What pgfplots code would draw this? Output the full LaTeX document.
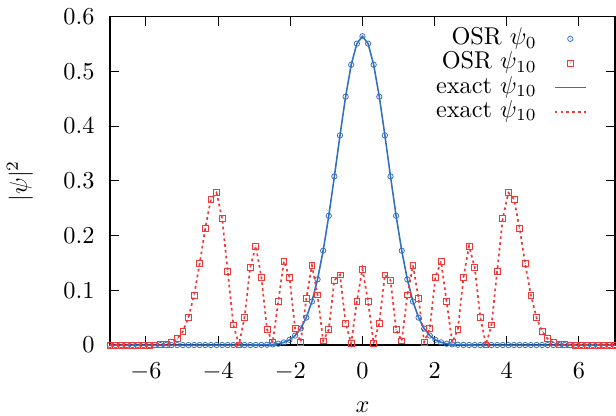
\documentclass[border=0pt]{standalone}
\usepackage{pgfplots}
\pgfplotsset{compat=1.18}
\usepackage{pgfplotstable}
\usetikzlibrary{calc}
\definecolor{osrblue}{HTML}{3370C0}
\definecolor{osrred}{HTML}{EE3A3A}

% open marks with a dot in the middle (gnuplot style)
\pgfdeclareplotmark{dotcirc}{%
  \pgfpathcircle{\pgfpointorigin}{\pgfplotmarksize}\pgfusepathqstroke
  \pgfpathcircle{\pgfpointorigin}{0.22pt}\pgfusepathqfill}
\pgfdeclareplotmark{dotsq}{%
  \pgfpathrectangle{\pgfpoint{-\pgfplotmarksize}{-\pgfplotmarksize}}{\pgfpoint{2\pgfplotmarksize}{2\pgfplotmarksize}}\pgfusepathqstroke
  \pgfpathcircle{\pgfpointorigin}{0.22pt}\pgfusepathqfill}

% shorter legend samples
\pgfplotsset{legend image code/.code={%
  \draw[mark repeat=2,mark phase=2,#1]
    plot coordinates {(0cm,0cm) (0.225cm,0cm) (0.45cm,0cm)};}}

% x, |psi_0|^2, |psi_10|^2
\pgfplotstableread{
x p0 p10
-7.0000 0 0
-6.8444 0 0
-6.6889 0 0
-6.5333 0 0
-6.3778 0 0
-6.2222 0 0.00001
-6.0667 0 0.00002
-5.9111 0 0.00007
-5.7556 0 0.00021
-5.6000 0 0.00065
-5.4444 0 0.00183
-5.2889 0 0.00478
-5.1333 0 0.01146
-4.9778 0 0.02518
-4.8222 0 0.05044
-4.6667 0 0.09143
-4.5111 0 0.14855
-4.3556 0 0.21344
-4.2000 0 0.26666
-4.0444 0 0.27830
-3.8889 0 0.23122
-3.7333 0 0.13470
-3.5778 0 0.03689
-3.4222 0 0.00038
-3.2667 0 0.05098
-3.1111 0 0.14147
-2.9556 0.0001 0.18097
-2.8000 0.0002 0.12362
-2.6444 0.0005 0.02865
-2.4889 0.0012 0.00464
-2.3333 0.0024 0.07902
-2.1778 0.0049 0.15294
-2.0222 0.0095 0.12400
-1.8667 0.0173 0.03036
-1.7111 0.0302 0.00553
-1.5556 0.0502 0.08477
-1.4000 0.0795 0.14559
-1.2444 0.1199 0.09172
-1.0889 0.1724 0.00763
-0.9333 0.2361 0.02823
-0.7778 0.3081 0.11875
-0.6222 0.3831 0.12811
-0.4667 0.4538 0.04004
-0.3111 0.5121 0.00292
-0.1556 0.5507 0.07947
0.0000 0.5642 0.13884
0.1556 0.5507 0.07947
0.3111 0.5121 0.00292
0.4667 0.4538 0.04004
0.6222 0.3831 0.12811
0.7778 0.3081 0.11875
0.9333 0.2361 0.02823
1.0889 0.1724 0.00763
1.2444 0.1199 0.09172
1.4000 0.0795 0.14559
1.5556 0.0502 0.08477
1.7111 0.0302 0.00553
1.8667 0.0173 0.03036
2.0222 0.0095 0.12400
2.1778 0.0049 0.15294
2.3333 0.0024 0.07902
2.4889 0.0012 0.00464
2.6444 0.0005 0.02865
2.8000 0.0002 0.12362
2.9556 0.0001 0.18097
3.1111 0 0.14147
3.2667 0 0.05098
3.4222 0 0.00038
3.5778 0 0.03689
3.7333 0 0.13470
3.8889 0 0.23122
4.0444 0 0.27830
4.2000 0 0.26666
4.3556 0 0.21344
4.5111 0 0.14855
4.6667 0 0.09143
4.8222 0 0.05044
4.9778 0 0.02518
5.1333 0 0.01146
5.2889 0 0.00478
5.4444 0 0.00183
5.6000 0 0.00065
5.7556 0 0.00021
5.9111 0 0.00007
6.0667 0 0.00002
6.2222 0 0.00001
6.3778 0 0
6.5333 0 0
6.6889 0 0
6.8444 0 0
7.0000 0 0
}\psidata

\begin{document}
\begin{tikzpicture}
\begin{axis}[
  name=ax,
  scale only axis,
  width=207.8pt, height=135.1pt,
  xmin=-7, xmax=7, ymin=0, ymax=0.6,
  xtick={-6,-4,...,6},
  ytick={0,0.1,...,0.6},
  tick align=inside,
  major tick length=3.8pt,
  tick style={black, line width=0.4pt},
  axis line style={black, line width=0.7pt},
  clip=false,
  xticklabel style={anchor=base, inner sep=0pt, yshift=-13.6pt},
  yticklabel style={anchor=east, inner sep=0pt, xshift=-6.15pt},
  xlabel={$x$},
  ylabel={$|\psi|^2$},
  every axis x label/.style={at={(axis description cs:0.5,-0.204)}, anchor=base},
  every axis y label/.style={at={(axis description cs:-0.178,0.5)}, anchor=center, rotate=90},
  legend plot pos=right,
  legend cell align=right,
  legend style={draw=none, fill=none, at={(axis description cs:0.945,0.971)},
    anchor=north east, inner sep=0pt, row sep=0pt, column sep=6.8pt,
    nodes={inner sep=0.3pt, text height=7pt, text depth=2.4pt}},
]
\addplot[only marks, mark=dotcirc, mark size=1.1pt, color=osrblue, mark options={line width=0.32pt}]
  table[x=x, y=p0] {\psidata};
\addplot[only marks, mark=dotsq, mark size=1.2pt, color=osrred, mark options={line width=0.32pt}]
  table[x=x, y=p10] {\psidata};
\addplot[no marks, color=osrblue, line width=0.65pt] table[x=x, y=p0] {\psidata};
\addplot[no marks, color=osrred, line width=0.7pt, dash pattern=on 1.1pt off 1.3pt]
  table[x=x, y=p10] {\psidata};
\addlegendentry{OSR $\psi_0$}
\addlegendentry{OSR $\psi_{10}$}
\addlegendentry{exact $\psi_{10}$}
\addlegendentry{exact $\psi_{10}$}
\end{axis}
\pgfresetboundingbox
\useasboundingbox ($(ax.south west)+(-45.2pt,-28.8pt)$) rectangle ($(ax.north east)+(0.41pt,6.84pt)$);
\end{tikzpicture}
\end{document}
